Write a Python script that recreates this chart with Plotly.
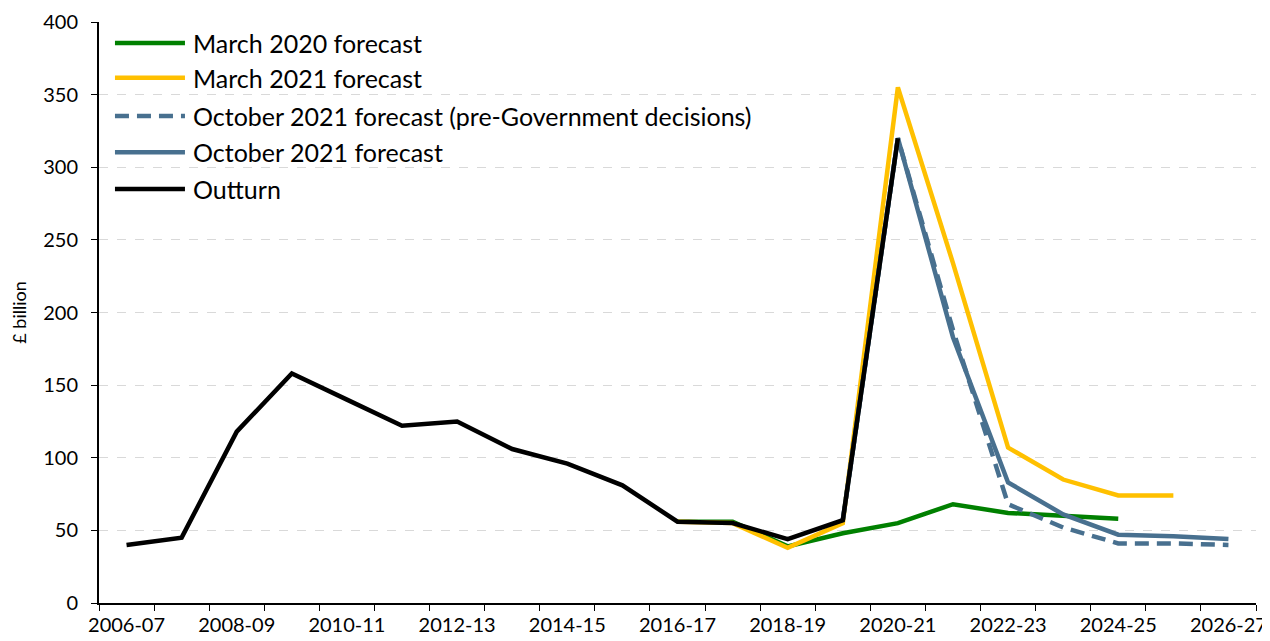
import plotly.graph_objects as go

years = ["2006-07", "2007-08", "2008-09", "2009-10", "2010-11", "2011-12", "2012-13",
         "2013-14", "2014-15", "2015-16", "2016-17", "2017-18", "2018-19", "2019-20",
         "2020-21", "2021-22", "2022-23", "2023-24", "2024-25", "2025-26", "2026-27"]

outturn_years = years[0:15]
outturn = [40, 45, 118, 158, 140, 122, 125, 106, 96, 81, 56, 55, 44, 57, 320]

mar20_years = years[10:19]
mar20 = [56, 56, 39, 48, 55, 68, 62, 60, 58]

mar21_years = years[10:20]
mar21 = [56, 55, 38, 55, 355, 234, 107, 85, 74, 74]

oct21_pre_years = years[13:21]
oct21_pre = [57, 320, 188, 68, 52, 41, 41, 40]

oct21_years = years[13:21]
oct21 = [57, 320, 183, 83, 61, 47, 46, 44]

tick_labels = [y if i % 2 == 0 else "" for i, y in enumerate(years)]

GREEN = "#008000"
YELLOW = "#FFC000"
BLUE = "#48708F"
BLACK = "#000000"
FONT = "Lato"

fig = go.Figure()
LW = 4.5
fig.add_trace(go.Scatter(x=mar20_years, y=mar20, mode="lines", name="March 2020 forecast",
                         line=dict(color=GREEN, width=LW)))
fig.add_trace(go.Scatter(x=mar21_years, y=mar21, mode="lines", name="March 2021 forecast",
                         line=dict(color=YELLOW, width=LW)))
fig.add_trace(go.Scatter(x=oct21_pre_years, y=oct21_pre, mode="lines",
                         name="October 2021 forecast (pre-Government decisions)",
                         line=dict(color=BLUE, width=LW, dash="14px,8px")))
fig.add_trace(go.Scatter(x=oct21_years, y=oct21, mode="lines", name="October 2021 forecast",
                         line=dict(color=BLUE, width=LW)))
fig.add_trace(go.Scatter(x=outturn_years, y=outturn, mode="lines", name="Outturn",
                         line=dict(color=BLACK, width=LW)))

# custom legend
legend_items = [
    ("March 2020 forecast", GREEN, "solid"),
    ("March 2021 forecast", YELLOW, "solid"),
    ("October 2021 forecast (pre-Government decisions)", BLUE, "14px,8px"),
    ("October 2021 forecast", BLUE, "solid"),
    ("Outturn", BLACK, "solid"),
]
legend_y = [0.964, 0.904, 0.838, 0.776, 0.7126]
for (label, color, dash), ly in zip(legend_items, legend_y):
    fig.add_shape(type="line", xref="paper", yref="paper", x0=0.0138, x1=0.0743,
                  y0=ly, y1=ly, line=dict(color=color, width=LW, dash=dash))
    fig.add_annotation(xref="paper", yref="paper", x=0.0795, y=ly, text=label,
                       showarrow=False, xanchor="left", yanchor="middle",
                       font=dict(family=FONT, size=25, color="#000000"))

# page body has an 8px margin, so the figure is sized/offset to compensate
fig.update_layout(
    width=1262, height=633,
    margin=dict(l=91, r=14, t=14, b=38),
    plot_bgcolor="white", paper_bgcolor="white",
    showlegend=False,
    font=dict(family=FONT, size=20, color="#000000"),
)
fig.update_xaxes(
    type="category", categoryorder="array", categoryarray=years,
    range=[-0.5, 20.5],
    tickmode="array", tickvals=years, ticktext=tick_labels,
    tickson="boundaries", ticks="outside", ticklen=6, tickcolor="#000000",
    tickangle=0, automargin=False, ticklabelstandoff=3,
    showline=True, linecolor="#000000", linewidth=2,
    showgrid=False, zeroline=False,
    tickfont=dict(family=FONT, size=20),
)
fig.update_yaxes(
    range=[0, 400], dtick=50, tick0=0,
    ticks="outside", ticklen=6, tickcolor="#000000",
    automargin=False, ticklabelstandoff=9,
    showline=True, linecolor="#000000", linewidth=2,
    showgrid=True, gridcolor="#D9D9D9", griddash="dash", gridwidth=1,
    zeroline=False,
    tickfont=dict(family=FONT, size=20),
    title=dict(text="£ billion", font=dict(family=FONT, size=18), standoff=22),
)

fig.write_html("out.html")
